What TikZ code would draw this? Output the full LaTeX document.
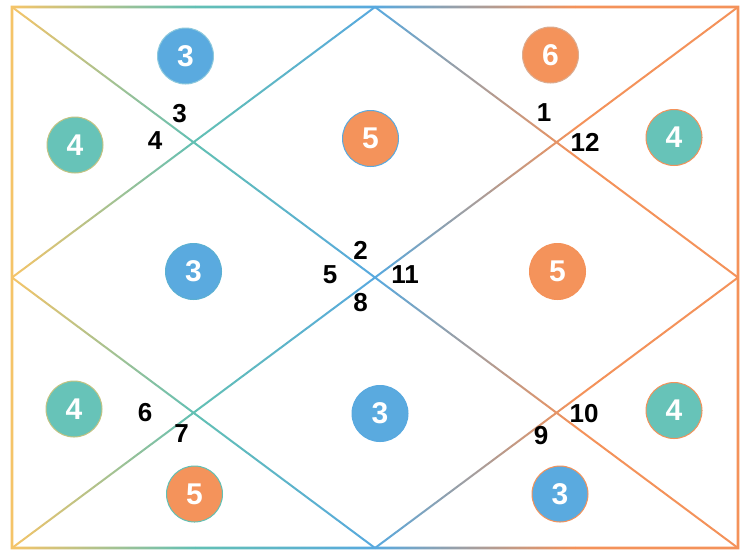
\documentclass[tikz,border=0pt]{standalone}
\usepackage{fontspec}
\setmainfont{Liberation Sans}
\usetikzlibrary{calc}
\definecolor{cY}{HTML}{F5C468}
\definecolor{cT}{HTML}{62C0B4}
\definecolor{cB}{HTML}{58A9DF}
\definecolor{cO}{HTML}{F4925A}
\definecolor{fB}{HTML}{5AAADF}
\definecolor{fO}{HTML}{F4935B}
\definecolor{fT}{HTML}{67C3B8}
\begin{document}
\begin{tikzpicture}[x=1pt,y=-1pt,
  bub/.style={circle, minimum size=56pt, inner sep=0pt, line width=1pt, text=white, font=\bfseries\fontsize{30}{30}\selectfont},
  lab/.style={inner sep=0pt, text=black, font=\bfseries\fontsize{26}{26}\selectfont}]
\fill[white] (0,0) rectangle (751,550);
\useasboundingbox (0,0) rectangle (751,550);
% grid points
\coordinate (tl) at (12,7);
\coordinate (tr) at (738,7);
\coordinate (bl) at (12,548);
\coordinate (br) at (738,548);
\coordinate (tm) at (375,7);
\coordinate (bm) at (375,548);
\coordinate (ml) at (12,277.5);
\coordinate (mr) at (738,277.5);
% inner lines, coloured by a horizontal gradient
\begin{scope}
  \clip \foreach \a/\b in {tl/br, bl/tr, tm/ml, ml/bm, bm/mr, mr/tm} {
    ($(\a)!1pt!90:(\b)$) -- ($(\b)!1pt!-90:(\a)$) -- ($(\b)!1pt!90:(\a)$) -- ($(\a)!1pt!-90:(\b)$) -- cycle };
  \fill[cY] (0,0) rectangle (12,550);
  \shade[left color=cY, right color=cT] (12,0) rectangle (195,550);
  \shade[left color=cT, right color=cB] (195,0) rectangle (375,550);
  \shade[left color=cB, right color=cO] (375,0) rectangle (575,550);
  \fill[cO] (575,0) rectangle (751,550);
\end{scope}
% frame
\begin{scope}
  \clip (10.7,5.7) rectangle (739.3,8.3)
        (10.7,546.7) rectangle (739.3,549.3)
        (10.7,5.7) rectangle (13.3,549.3)
        (736.7,5.7) rectangle (739.3,549.3);
  \fill[cY] (0,0) rectangle (12,550);
  \shade[left color=cY, right color=cT] (12,0) rectangle (195,550);
  \shade[left color=cT, right color=cB] (195,0) rectangle (375,550);
  \shade[left color=cB, right color=cO] (375,0) rectangle (575,550);
  \fill[cO] (575,0) rectangle (751,550);
\end{scope}
% circles
\node[bub, fill=fB, draw=cT!40!cB!70!white] (c1) at (185.5,56) {3};
\node[bub, fill=fO, draw=cO!80!black!60!white] (c2) at (550.5,55) {6};
\node[bub, fill=fO, draw=cB] (c3) at (370.5,138.5) {5};
\node[bub, fill=fT, draw=cY!65!cT] (c4) at (75,145) {4};
\node[bub, fill=fT, draw=cO] (c5) at (674,137.5) {4};
\node[bub, fill=fB, draw=cT!30!cB] (c6) at (193.5,271.5) {3};
\node[bub, fill=fO, draw=cO] (c7) at (557.5,271.5) {5};
\node[bub, fill=fT, draw=cY!65!cT] (c8) at (74,409) {4};
\node[bub, fill=fB, draw=cB] (c9) at (380,413.5) {3};
\node[bub, fill=fT, draw=cO] (c10) at (674,410.5) {4};
\node[bub, fill=fO, draw=cT] (c11) at (194.5,494) {5};
\node[bub, fill=fB, draw=cO] (c12) at (560,494) {3};
% house numbers
\node[lab] (h3) at (179.5,114) {3};
\node[lab] (h4) at (155,140.5) {4};
\node[lab] (h1) at (544,113) {1};
\node[lab] (h12) at (585,142.5) {12};
\node[lab] (h2) at (360.5,250) {2};
\node[lab] (h5) at (330,275) {5};
\node[lab] (h11) at (405,275) {11};
\node[lab] (h8) at (360.5,303) {8};
\node[lab] (h6) at (145,413) {6};
\node[lab] (h7) at (181.5,434) {7};
\node[lab] (h10) at (584,414) {10};
\node[lab] (h9) at (541,436) {9};
\end{tikzpicture}
\end{document}
